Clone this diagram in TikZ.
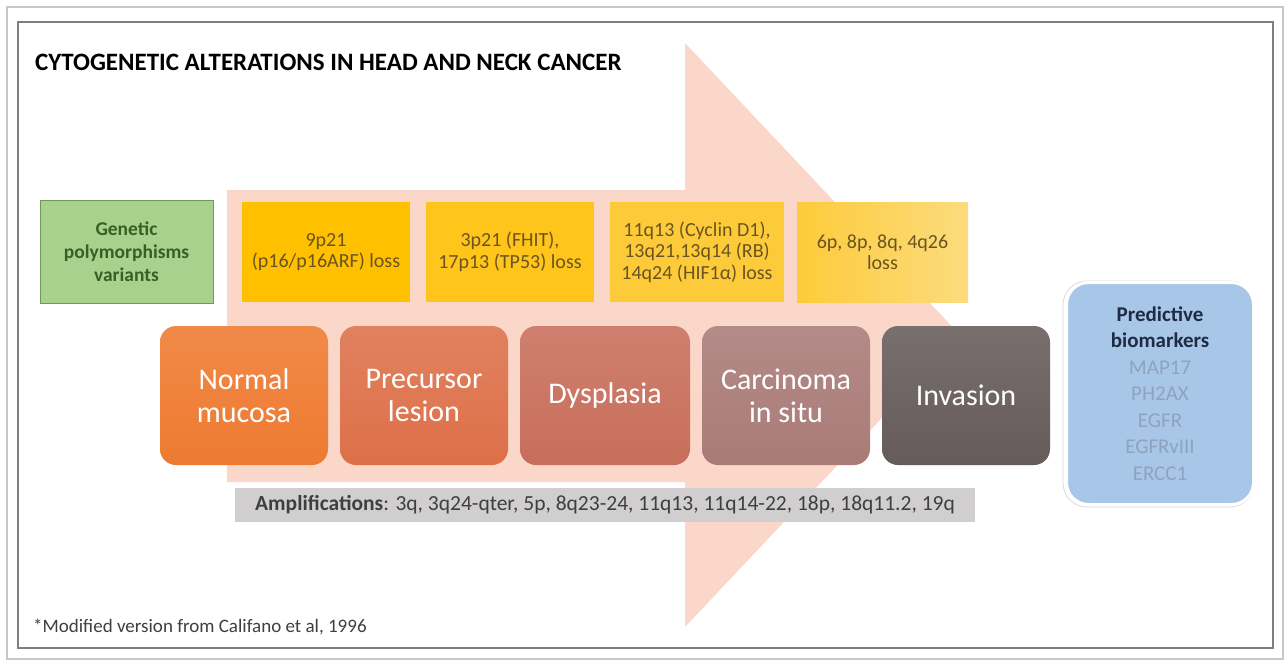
\documentclass[tikz,border=0pt]{standalone}
\usepackage{fontspec}
\setmainfont{Carlito}
\definecolor{arrowpink}{HTML}{FBD7CA}
\definecolor{frameout}{HTML}{C8C8C8}
\definecolor{framein}{HTML}{7F7F7F}
\definecolor{greenfill}{HTML}{A9D18E}
\definecolor{greenline}{HTML}{6E9A55}
\definecolor{greentext}{HTML}{3B5E26}
\definecolor{yellowA}{HTML}{FFC000}
\definecolor{yellowB}{HTML}{FFC51A}
\definecolor{yellowC}{HTML}{FDCB3A}
\definecolor{yellowD}{HTML}{FAD35E}
\definecolor{yellowtext}{HTML}{6A5420}
\definecolor{stageA}{HTML}{EE7A30}
\definecolor{stageB}{HTML}{DD7049}
\definecolor{stageC}{HTML}{C86E5B}
\definecolor{stageD}{HTML}{A97B77}
\definecolor{stageE}{HTML}{665B5B}
\definecolor{bluefill}{HTML}{A8C6E8}
\definecolor{bluetitle}{HTML}{1F2B44}
\definecolor{bluetext}{HTML}{8EA3BE}
\definecolor{ampfill}{HTML}{D0CECE}
\definecolor{amptext}{HTML}{3F3F3F}
\tikzset{
  genebox/.style={draw=greenline, line width=1pt, fill=greenfill, minimum width=173pt, minimum height=103pt,
    align=center, text=greentext, font=\fontsize{19.5}{23}\selectfont\bfseries, inner sep=0pt},
  lossbox/.style={minimum height=100pt, align=center, text=yellowtext,
    font=\fontsize{20}{21.5}\selectfont, inner sep=0pt},
  stagebox/.style={rounded corners=16pt, minimum width=168pt, minimum height=139pt, align=center,
    text=white, font=\fontsize{30}{33}\selectfont, inner sep=0pt},
  markerbox/.style={draw=white, line width=3pt, rounded corners=22pt, fill=bluefill, minimum width=187pt,
    minimum height=222pt, align=center, font=\fontsize{21}{26.5}\selectfont, inner sep=0pt},
  ampbar/.style={fill=ampfill, minimum width=740pt, minimum height=34pt, text=amptext,
    font=\fontsize{21.5}{24}\selectfont, inner sep=0pt},
  plaintext/.style={inner sep=0pt, anchor=west}
}
\begin{document}
\begin{tikzpicture}[x=1pt,y=-1pt]
\useasboundingbox (0,0) rectangle (1286,664);
\fill[white] (0,0) rectangle (1286,664);
\draw[frameout, line width=1.2pt] (7,7) rectangle (1283,659);
\draw[framein, line width=1.4pt] (18,22) rectangle (1273,648);
% big background arrow
\fill[arrowpink] (227,190) -- (685,190) -- (685,43) -- (960,335) -- (685,627) -- (685,482) -- (227,482) -- cycle;
% title
\node[plaintext, font=\fontsize{25}{28}\selectfont\bfseries, text=black] (title) at (35,62) {CYTOGENETIC ALTERATIONS IN HEAD AND NECK CANCER};
% green box
\node[genebox] (gene) at (126.5,251.5) {Genetic\\polymorphisms\\variants};
% loss boxes
\node[lossbox, fill=yellowA, minimum width=168pt] (loss1) at (326,252) {9p21\\(p16/p16ARF) loss};
\node[lossbox, fill=yellowB, minimum width=168pt] (loss2) at (510,252) {3p21 (FHIT),\\17p13 (TP53) loss};
\node[lossbox, fill=yellowC, minimum width=174pt] (loss3) at (697,252) {11q13 (Cyclin D1),\\13q21,13q14 (RB)\\14q24 (HIF1α) loss};
\node[lossbox, left color=yellowC, right color=yellowD!80!white, minimum width=171pt] (loss4) at (882.5,252) {6p, 8p, 8q, 4q26\\loss};
% stage boxes
\node[stagebox, top color=stageA!88!white, bottom color=stageA] (s1) at (244,395.5) {Normal\\mucosa};
\node[stagebox, top color=stageB!88!white, bottom color=stageB] (s2) at (424,395.5) {Precursor\\lesion};
\node[stagebox, top color=stageC!88!white, bottom color=stageC, minimum width=170pt] (s3) at (605,395.5) {Dysplasia};
\node[stagebox, top color=stageD!88!white, bottom color=stageD] (s4) at (786,395.5) {Carcinoma\\in situ};
\node[stagebox, top color=stageE!88!white, bottom color=stageE] (s5) at (966,395.5) {Invasion};
% predictive biomarkers
\draw[gray!30, line width=0.8pt, rounded corners=24pt] (1063,281) rectangle (1254,507);
\node[markerbox] (markers) at (1160,393.5) {\textcolor{bluetitle}{\bfseries Predictive}\\\textcolor{bluetitle}{\bfseries biomarkers}\\\textcolor{bluetext}{MAP17}\\\textcolor{bluetext}{PH2AX}\\\textcolor{bluetext}{EGFR}\\\textcolor{bluetext}{EGFRvIII}\\\textcolor{bluetext}{ERCC1}};
% amplifications
\node[ampbar] (amp) at (605,505) {\textbf{Amplifications}: 3q, 3q24-qter, 5p, 8q23-24, 11q13, 11q14-22, 18p, 18q11.2, 19q};
% footnote
\node[plaintext, font=\fontsize{19}{22}\selectfont, text=amptext] (foot) at (33,627) {*Modified version from Califano et al, 1996};
\end{tikzpicture}
\end{document}
